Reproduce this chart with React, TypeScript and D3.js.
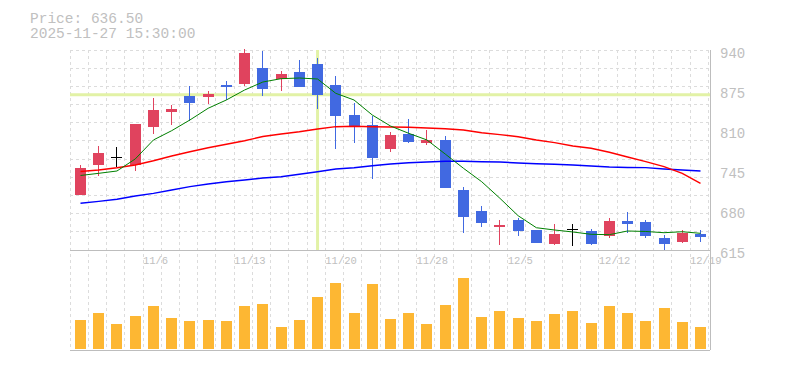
import React from 'react';
import * as d3 from 'd3';

const W = 785;
const H = 370;

// trading days
const dates = ['10/30','10/31','11/4','11/5','11/6','11/7','11/10','11/11','11/12','11/13','11/14','11/17','11/18','11/19','11/20','11/21','11/25','11/26','11/27','11/28','12/1','12/2','12/3','12/4','12/5','12/8','12/9','12/10','12/11','12/12','12/15','12/16','12/17','12/18','12/19'];
const shownDates = ['11/6','11/13','11/20','11/28','12/5','12/12','12/19'];

const open = [704.9,753.6,765.6,753.6,815.4,839.7,865.3,864.1,883.6,885.2,910.8,892.9,904.3,917.3,883.1,834.4,818.1,779.6,803.5,789.4,793.8,712.5,678.4,652.9,663.8,647.5,625.2,648.6,645.9,637.9,662.1,660.5,634.5,628.5,641];
const high = [752.6,784,782.4,820,861.5,850.6,881.5,873.4,889.1,941,938.4,905.9,923.8,927,897.8,853.9,832.3,806.8,827.9,810,799.8,717.4,686.5,663.8,666.5,647.5,657.3,657.3,648.6,666.5,676.8,663.8,639.4,647.5,647.5];
const low = [704.9,735.7,749.4,743.9,803.5,818.6,825.2,852.3,858.8,881.5,865.8,873.9,880.4,844.6,779.6,789.4,729.9,774.8,789.4,786.1,716,643,652.9,623.9,637.9,625.9,623.3,621,623.3,635.2,642.1,634.5,613.9,626.9,628.5];
const close = [748.3,773.1,765.6,819.8,842.5,844.1,854.4,868.5,880.4,935.6,877.1,901.5,880.4,867.4,833.3,817,765,801.9,791,794.2,716.3,668.8,659.4,655.6,646,626.9,641,648.6,625.2,662.1,658,637.9,625.2,643.1,636.5];

const ma5 = [736.1,739.6,743.4,762.9,793.8,808.9,826.3,845.3,858.8,875,888,893.4,894.5,892.9,869.6,858.8,834.4,816.5,804.6,793.8,771,747.8,726,699,670.7,651.2,647.5,644.3,640.5,639.9,645.9,645.1,643.1,644.7,642.1];
const ma25 = [742.6,745,748.7,753.1,760.1,767.8,774.7,781.2,786.8,792.6,799.4,803.5,807.2,811.6,815.4,816,815.4,814.9,814.4,813.3,812.1,810,805.6,802.4,799.1,793.8,789.4,784,780.3,773.8,766.1,758.5,750.4,739.6,723.4];
const ma75 = [690.9,694.1,697.4,702.8,707.1,712.5,717.9,722.3,726,728.8,732,734.1,738,742.2,746.6,748.7,752,754.8,756.9,758,759.1,759.1,758.5,758,756.4,755.2,754.3,753.1,751.5,749.9,749.1,748.8,746.6,745,743.4];

// volume, thousand shares
const volume = [116,144,100,132,172,124,112,116,112,172,180,88,116,208,264,144,260,120,144,100,176,284,128,152,124,112,140,152,104,172,144,112,164,108,88];

const priceTicks = [940, 875, 810, 745, 680, 615];

const left = 70;
const right = 710;
const pTop = 50;
const pBottom = 250;
const vBottom = 350;

const UP = '#e0435e';
const DOWN = '#4169e1';
const GRID = '#dcdcdc';
const AXIS = '#bdbdbd';
const FONT = '"Liberation Mono", "DejaVu Sans Mono", monospace';

export default function App() {
  const x = d3.scalePoint<string>().domain(dates).range([80.5, 700.5]);
  const y = d3.scaleLinear().domain([615, 940]).range([pBottom, pTop]);
  const vy = d3.scaleLinear().domain([0, 300]).range([348.5, 273.5]);
  const step = x.step();
  const bw = 11;

  const line = (vals: number[]) =>
    d3.line<number>().x((_, i) => x(dates[i])!).y(v => y(v))(vals) || '';

  const hGrid = d3.range(12).map(k => pTop + (k * (pBottom - pTop)) / 11);
  const vGrid = d3.range(36).map(i => x(dates[0])! - 10.4 + i * step);

  const ci = 13;

  return (
    <svg width={W} height={H} style={{ position: 'absolute', left: 0, top: 0, background: '#fff' }}>
      <g fontFamily={FONT} fill="#c0c0c0" fontSize={14.5}>
        <text x={30} y={23}>Price: {close[close.length - 1].toFixed(2)}</text>
        <text x={30} y={38}>2025-11-27 15:30:00</text>
      </g>

      {/* grid */}
      <g stroke={GRID} strokeDasharray="3,3" shapeRendering="crispEdges">
        {hGrid.slice(0, 11).map((gy, k) => (
          <line key={'h' + k} x1={left} x2={right} y1={gy} y2={gy} />
        ))}
        {vGrid.map((gx, k) => (
          <line key={'v' + k} x1={gx} x2={gx} y1={pTop} y2={vBottom} />
        ))}
      </g>

      {/* crosshair */}
      <g stroke="#e2f2a6" strokeWidth={3}>
        <line x1={x(dates[ci])} x2={x(dates[ci])} y1={pTop} y2={pBottom} />
        <line x1={left} x2={right} y1={y(close[ci])} y2={y(close[ci])} />
      </g>

      {/* candles */}
      <g shapeRendering="crispEdges">
        {dates.map((d, i) => {
          const cx = x(d)!;
          const o = open[i];
          const c = close[i];
          const col = c > o ? UP : c < o ? DOWN : '#000';
          const top = y(Math.max(o, c));
          const bot = y(Math.min(o, c));
          return (
            <g key={d}>
              <line x1={cx} x2={cx} y1={y(high[i])} y2={y(low[i])} stroke={col} />
              {c === o ? (
                <line x1={cx - bw / 2} x2={cx + bw / 2} y1={top} y2={top} stroke={col} />
              ) : (
                <rect x={cx - bw / 2} y={top} width={bw} height={Math.max(1, bot - top)} fill={col} />
              )}
            </g>
          );
        })}
      </g>

      {/* moving averages */}
      <g fill="none">
        <path d={line(ma75)} stroke="#0000ff" strokeWidth={1.4} />
        <path d={line(ma25)} stroke="#ff0000" strokeWidth={1.4} />
        <path d={line(ma5)} stroke="#008000" strokeWidth={1} />
      </g>

      {/* volume */}
      <g fill="#fdb733" shapeRendering="crispEdges">
        {dates.map((d, i) => (
          <rect key={d} x={x(d)! - bw / 2} y={vy(volume[i])} width={bw} height={vy(0) - vy(volume[i])} />
        ))}
      </g>

      {/* borders */}
      <g stroke={AXIS} shapeRendering="crispEdges">
        <line x1={left} x2={right} y1={pBottom + 0.5} y2={pBottom + 0.5} />
        <line x1={left} x2={right} y1={vBottom} y2={vBottom} />
        <line x1={right} x2={right} y1={pTop} y2={vBottom} />
      </g>

      {/* axis labels */}
      <g fontFamily={FONT} fill="#c0c0c0">
        {priceTicks.map(t => (
          <text key={t} x={720} y={y(t) + 7.5} fontSize={14}>{t}</text>
        ))}
        {shownDates.map(d => (
          <text key={d} x={x(d)! - 10.5} y={264} fontSize={10.5}>{d}</text>
        ))}
      </g>
    </svg>
  );
}
